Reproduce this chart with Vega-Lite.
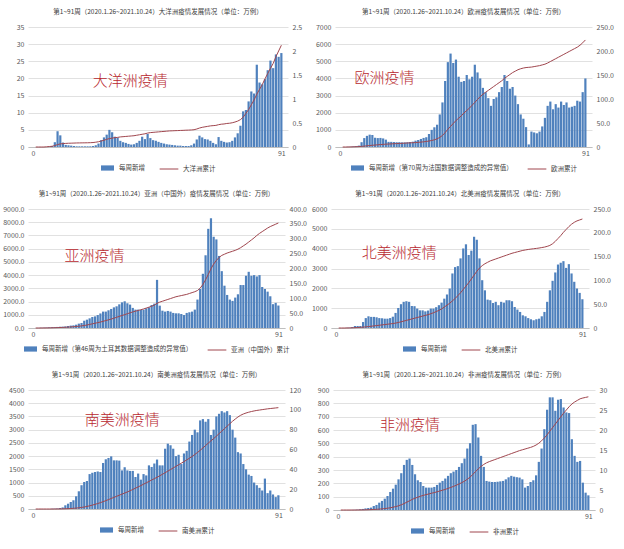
{
"$schema": "https://vega.github.io/schema/vega-lite/v6.json",
"background": "white",
"padding": {"left": 2, "top": 8, "right": 2, "bottom": 2},
"data": {"values": [
{"week":1,"oce_new":0,"oce_cum":0,"eur_new":0,"eur_cum":0,"asi_new":5,"asi_cum":0,"nam_new":0,"nam_cum":0,"sam_new":0,"sam_cum":0,"afr_new":0,"afr_cum":0},
{"week":2,"oce_new":0,"oce_cum":0,"eur_new":0,"eur_cum":0,"asi_new":10,"asi_cum":0,"nam_new":0,"nam_cum":0,"sam_new":0,"sam_cum":0,"afr_new":0,"afr_cum":0},
{"week":3,"oce_new":0,"oce_cum":0,"eur_new":10,"eur_cum":0.1,"asi_new":20,"asi_cum":0.1,"nam_new":0,"nam_cum":0,"sam_new":0,"sam_cum":0,"afr_new":0,"afr_cum":0},
{"week":4,"oce_new":0,"oce_cum":0,"eur_new":20,"eur_cum":0.2,"asi_new":30,"asi_cum":0.2,"nam_new":10,"nam_cum":0.1,"sam_new":0,"sam_cum":0,"afr_new":0,"afr_cum":0},
{"week":5,"oce_new":0,"oce_cum":0.005,"eur_new":40,"eur_cum":0.4,"asi_new":40,"asi_cum":0.3,"nam_new":20,"nam_cum":0.2,"sam_new":0,"sam_cum":0,"afr_new":1,"afr_cum":0},
{"week":6,"oce_new":0.1,"oce_cum":0.01,"eur_new":50,"eur_cum":0.6,"asi_new":50,"asi_cum":0.5,"nam_new":50,"nam_cum":0.4,"sam_new":0,"sam_cum":0,"afr_new":2,"afr_cum":0},
{"week":7,"oce_new":0.3,"oce_cum":0.015,"eur_new":80,"eur_cum":0.9,"asi_new":60,"asi_cum":0.7,"nam_new":100,"nam_cum":0.7,"sam_new":10,"sam_cum":0,"afr_new":3,"afr_cum":0.01},
{"week":8,"oce_new":1.4,"oce_cum":0.03,"eur_new":280,"eur_cum":1.3,"asi_new":70,"asi_cum":1.0,"nam_new":100,"nam_cum":1.0,"sam_new":15,"sam_cum":0.02,"afr_new":5,"afr_cum":0.02},
{"week":9,"oce_new":4.6,"oce_cum":0.05,"eur_new":520,"eur_cum":1.8,"asi_new":80,"asi_cum":1.3,"nam_new":100,"nam_cum":1.4,"sam_new":20,"sam_cum":0.05,"afr_new":8,"afr_cum":0.03},
{"week":10,"oce_new":3.4,"oce_cum":0.065,"eur_new":650,"eur_cum":2.4,"asi_new":90,"asi_cum":1.6,"nam_new":300,"nam_cum":1.8,"sam_new":40,"sam_cum":0.1,"afr_new":12,"afr_cum":0.05},
{"week":11,"oce_new":1.3,"oce_cum":0.07,"eur_new":720,"eur_cum":3.0,"asi_new":100,"asi_cum":2,"nam_new":500,"nam_cum":2.3,"sam_new":60,"sam_cum":0.15,"afr_new":15,"afr_cum":0.07},
{"week":12,"oce_new":0.6,"oce_cum":0.075,"eur_new":700,"eur_cum":3.6,"asi_new":120,"asi_cum":2.5,"nam_new":590,"nam_cum":3.0,"sam_new":140,"sam_cum":0.25,"afr_new":18,"afr_cum":0.1},
{"week":13,"oce_new":0.5,"oce_cum":0.078,"eur_new":540,"eur_cum":4.1,"asi_new":150,"asi_cum":3,"nam_new":560,"nam_cum":3.7,"sam_new":200,"sam_cum":0.35,"afr_new":30,"afr_cum":0.13},
{"week":14,"oce_new":0.4,"oce_cum":0.08,"eur_new":520,"eur_cum":4.6,"asi_new":180,"asi_cum":3.6,"nam_new":560,"nam_cum":4.4,"sam_new":265,"sam_cum":0.5,"afr_new":38,"afr_cum":0.17},
{"week":15,"oce_new":0.3,"oce_cum":0.082,"eur_new":530,"eur_cum":5.1,"asi_new":200,"asi_cum":4.3,"nam_new":540,"nam_cum":5.1,"sam_new":330,"sam_cum":0.7,"afr_new":55,"afr_cum":0.22},
{"week":16,"oce_new":0.2,"oce_cum":0.084,"eur_new":500,"eur_cum":5.5,"asi_new":250,"asi_cum":5,"nam_new":500,"nam_cum":5.8,"sam_new":480,"sam_cum":0.9,"afr_new":68,"afr_cum":0.28},
{"week":17,"oce_new":0.2,"oce_cum":0.085,"eur_new":430,"eur_cum":5.9,"asi_new":330,"asi_cum":6,"nam_new":490,"nam_cum":6.5,"sam_new":670,"sam_cum":1.2,"afr_new":85,"afr_cum":0.35},
{"week":18,"oce_new":0.2,"oce_cum":0.086,"eur_new":300,"eur_cum":6.2,"asi_new":380,"asi_cum":7,"nam_new":470,"nam_cum":7.2,"sam_new":900,"sam_cum":1.6,"afr_new":105,"afr_cum":0.45},
{"week":19,"oce_new":0.2,"oce_cum":0.087,"eur_new":300,"eur_cum":6.5,"asi_new":550,"asi_cum":8.5,"nam_new":470,"nam_cum":7.9,"sam_new":1020,"sam_cum":2.0,"afr_new":135,"afr_cum":0.55},
{"week":20,"oce_new":0.2,"oce_cum":0.088,"eur_new":290,"eur_cum":6.8,"asi_new":630,"asi_cum":10,"nam_new":500,"nam_cum":8.6,"sam_new":1060,"sam_cum":2.6,"afr_new":160,"afr_cum":0.7},
{"week":21,"oce_new":0.2,"oce_cum":0.09,"eur_new":280,"eur_cum":7.1,"asi_new":730,"asi_cum":12,"nam_new":570,"nam_cum":9.4,"sam_new":1320,"sam_cum":3.2,"afr_new":190,"afr_cum":0.85},
{"week":22,"oce_new":0.3,"oce_cum":0.093,"eur_new":280,"eur_cum":7.4,"asi_new":830,"asi_cum":14,"nam_new":760,"nam_cum":10.3,"sam_new":1370,"sam_cum":3.9,"afr_new":230,"afr_cum":1.05},
{"week":23,"oce_new":0.5,"oce_cum":0.1,"eur_new":270,"eur_cum":7.7,"asi_new":880,"asi_cum":16,"nam_new":1010,"nam_cum":11.5,"sam_new":1400,"sam_cum":4.7,"afr_new":276,"afr_cum":1.3},
{"week":24,"oce_new":1.0,"oce_cum":0.11,"eur_new":270,"eur_cum":8.0,"asi_new":980,"asi_cum":18,"nam_new":1200,"nam_cum":13,"sam_new":1420,"sam_cum":5.5,"afr_new":338,"afr_cum":1.6},
{"week":25,"oce_new":2.0,"oce_cum":0.125,"eur_new":280,"eur_cum":8.3,"asi_new":1100,"asi_cum":20,"nam_new":1320,"nam_cum":14.5,"sam_new":1400,"sam_cum":6.4,"afr_new":376,"afr_cum":1.95},
{"week":26,"oce_new":2.8,"oce_cum":0.14,"eur_new":290,"eur_cum":8.6,"asi_new":1240,"asi_cum":22.5,"nam_new":1350,"nam_cum":16,"sam_new":1740,"sam_cum":7.4,"afr_new":386,"afr_cum":2.3},
{"week":27,"oce_new":3.6,"oce_cum":0.16,"eur_new":310,"eur_cum":8.9,"asi_new":1240,"asi_cum":25,"nam_new":1320,"nam_cum":17.5,"sam_new":1880,"sam_cum":8.4,"afr_new":338,"afr_cum":2.65},
{"week":28,"oce_new":5.0,"oce_cum":0.175,"eur_new":370,"eur_cum":9.3,"asi_new":1340,"asi_cum":27.5,"nam_new":1110,"nam_cum":19,"sam_new":1930,"sam_cum":9.5,"afr_new":268,"afr_cum":2.95},
{"week":29,"oce_new":4.3,"oce_cum":0.185,"eur_new":410,"eur_cum":9.7,"asi_new":1440,"asi_cum":30,"nam_new":1100,"nam_cum":20.5,"sam_new":1990,"sam_cum":10.6,"afr_new":223,"afr_cum":3.2},
{"week":30,"oce_new":3.0,"oce_cum":0.195,"eur_new":470,"eur_cum":10.2,"asi_new":1560,"asi_cum":33,"nam_new":980,"nam_cum":22,"sam_new":1840,"sam_cum":11.7,"afr_new":210,"afr_cum":3.45},
{"week":31,"oce_new":2.7,"oce_cum":0.2,"eur_new":530,"eur_cum":10.8,"asi_new":1640,"asi_cum":36,"nam_new":890,"nam_cum":23.5,"sam_new":1840,"sam_cum":12.8,"afr_new":180,"afr_cum":3.65},
{"week":32,"oce_new":1.8,"oce_cum":0.21,"eur_new":570,"eur_cum":11.5,"asi_new":1790,"asi_cum":39,"nam_new":890,"nam_cum":25,"sam_new":1830,"sam_cum":13.9,"afr_new":168,"afr_cum":3.85},
{"week":33,"oce_new":1.4,"oce_cum":0.215,"eur_new":760,"eur_cum":12.4,"asi_new":1940,"asi_cum":42,"nam_new":840,"nam_cum":26.5,"sam_new":1460,"sam_cum":15.0,"afr_new":168,"afr_cum":4.0},
{"week":34,"oce_new":1.2,"oce_cum":0.22,"eur_new":1000,"eur_cum":13.6,"asi_new":2020,"asi_cum":45,"nam_new":880,"nam_cum":28,"sam_new":1580,"sam_cum":16.1,"afr_new":168,"afr_cum":4.2},
{"week":35,"oce_new":0.9,"oce_cum":0.225,"eur_new":1150,"eur_cum":15.0,"asi_new":1870,"asi_cum":48,"nam_new":980,"nam_cum":30,"sam_new":1460,"sam_cum":17.2,"afr_new":173,"afr_cum":4.35},
{"week":36,"oce_new":0.7,"oce_cum":0.23,"eur_new":1300,"eur_cum":17.0,"asi_new":1770,"asi_cum":51,"nam_new":980,"nam_cum":32,"sam_new":1440,"sam_cum":18.4,"afr_new":188,"afr_cum":4.55},
{"week":37,"oce_new":0.8,"oce_cum":0.235,"eur_new":1900,"eur_cum":20,"asi_new":1520,"asi_cum":54,"nam_new":1050,"nam_cum":34.5,"sam_new":1440,"sam_cum":19.7,"afr_new":205,"afr_cum":4.75},
{"week":38,"oce_new":1.2,"oce_cum":0.245,"eur_new":2600,"eur_cum":24,"asi_new":1390,"asi_cum":56.5,"nam_new":1150,"nam_cum":37,"sam_new":1210,"sam_cum":21,"afr_new":218,"afr_cum":4.95},
{"week":39,"oce_new":1.8,"oce_cum":0.255,"eur_new":3850,"eur_cum":30,"asi_new":1390,"asi_cum":59,"nam_new":1280,"nam_cum":40,"sam_new":1340,"sam_cum":22.3,"afr_new":236,"afr_cum":5.15},
{"week":40,"oce_new":3.0,"oce_cum":0.265,"eur_new":4950,"eur_cum":37,"asi_new":1360,"asi_cum":61.5,"nam_new":1480,"nam_cum":44,"sam_new":1110,"sam_cum":23.6,"afr_new":256,"afr_cum":5.4},
{"week":41,"oce_new":2.3,"oce_cum":0.275,"eur_new":5450,"eur_cum":43,"asi_new":1390,"asi_cum":64,"nam_new":1690,"nam_cum":48,"sam_new":1320,"sam_cum":25,"afr_new":276,"afr_cum":5.65},
{"week":42,"oce_new":3.8,"oce_cum":0.29,"eur_new":4900,"eur_cum":49,"asi_new":1490,"asi_cum":67,"nam_new":1990,"nam_cum":52,"sam_new":1270,"sam_cum":26.4,"afr_new":288,"afr_cum":5.9},
{"week":43,"oce_new":2.6,"oce_cum":0.3,"eur_new":5100,"eur_cum":55,"asi_new":1560,"asi_cum":70,"nam_new":2750,"nam_cum":57,"sam_new":1650,"sam_cum":27.8,"afr_new":300,"afr_cum":6.2},
{"week":44,"oce_new":2.0,"oce_cum":0.305,"eur_new":4100,"eur_cum":60,"asi_new":1740,"asi_cum":73,"nam_new":3070,"nam_cum":62,"sam_new":1590,"sam_cum":29.2,"afr_new":323,"afr_cum":6.5},
{"week":45,"oce_new":1.8,"oce_cum":0.31,"eur_new":3800,"eur_cum":65,"asi_new":1840,"asi_cum":77,"nam_new":3120,"nam_cum":68,"sam_new":1720,"sam_cum":30.6,"afr_new":351,"afr_cum":6.85},
{"week":46,"oce_new":1.5,"oce_cum":0.315,"eur_new":3850,"eur_cum":71,"asi_new":3640,"asi_cum":83,"nam_new":3510,"nam_cum":74,"sam_new":1870,"sam_cum":32,"afr_new":386,"afr_cum":7.2},
{"week":47,"oce_new":1.2,"oce_cum":0.32,"eur_new":4200,"eur_cum":76,"asi_new":1690,"asi_cum":87,"nam_new":4010,"nam_cum":81,"sam_new":1650,"sam_cum":33.5,"afr_new":461,"afr_cum":7.7},
{"week":48,"oce_new":1.0,"oce_cum":0.325,"eur_new":3950,"eur_cum":81,"asi_new":1310,"asi_cum":90,"nam_new":4220,"nam_cum":88,"sam_new":1650,"sam_cum":35,"afr_new":501,"afr_cum":8.2},
{"week":49,"oce_new":0.8,"oce_cum":0.33,"eur_new":4100,"eur_cum":87,"asi_new":1240,"asi_cum":93,"nam_new":3680,"nam_cum":95,"sam_new":2280,"sam_cum":36.6,"afr_new":639,"afr_cum":8.9},
{"week":50,"oce_new":0.7,"oce_cum":0.335,"eur_new":4800,"eur_cum":93,"asi_new":1290,"asi_cum":96,"nam_new":3900,"nam_cum":103,"sam_new":2470,"sam_cum":38.2,"afr_new":644,"afr_cum":9.6},
{"week":51,"oce_new":0.6,"oce_cum":0.337,"eur_new":4350,"eur_cum":99,"asi_new":1240,"asi_cum":99,"nam_new":4600,"nam_cum":111,"sam_new":2410,"sam_cum":39.8,"afr_new":544,"afr_cum":10.3},
{"week":52,"oce_new":0.5,"oce_cum":0.34,"eur_new":4000,"eur_cum":105,"asi_new":1140,"asi_cum":102,"nam_new":4450,"nam_cum":119,"sam_new":2280,"sam_cum":41.4,"afr_new":406,"afr_cum":10.9},
{"week":53,"oce_new":0.4,"oce_cum":0.342,"eur_new":3450,"eur_cum":110,"asi_new":1110,"asi_cum":105,"nam_new":3510,"nam_cum":126,"sam_new":2000,"sam_cum":43,"afr_new":323,"afr_cum":11.4},
{"week":54,"oce_new":0.4,"oce_cum":0.345,"eur_new":3200,"eur_cum":114,"asi_new":1110,"asi_cum":107,"nam_new":2410,"nam_cum":131,"sam_new":2050,"sam_cum":44.6,"afr_new":218,"afr_cum":11.8},
{"week":55,"oce_new":0.3,"oce_cum":0.347,"eur_new":2850,"eur_cum":118,"asi_new":1060,"asi_cum":109,"nam_new":1900,"nam_cum":135,"sam_new":1700,"sam_cum":46.2,"afr_new":213,"afr_cum":12.1},
{"week":56,"oce_new":0.3,"oce_cum":0.35,"eur_new":2400,"eur_cum":122,"asi_new":980,"asi_cum":111,"nam_new":1430,"nam_cum":138,"sam_new":2100,"sam_cum":47.8,"afr_new":210,"afr_cum":12.35},
{"week":57,"oce_new":0.3,"oce_cum":0.352,"eur_new":2800,"eur_cum":126,"asi_new":1140,"asi_cum":113,"nam_new":1400,"nam_cum":141,"sam_new":2200,"sam_cum":49.5,"afr_new":210,"afr_cum":12.6},
{"week":58,"oce_new":0.5,"oce_cum":0.355,"eur_new":2900,"eur_cum":130,"asi_new":1190,"asi_cum":116,"nam_new":1260,"nam_cum":143,"sam_new":2550,"sam_cum":51.2,"afr_new":212,"afr_cum":12.85},
{"week":59,"oce_new":1.0,"oce_cum":0.36,"eur_new":3200,"eur_cum":134,"asi_new":1240,"asi_cum":119,"nam_new":1320,"nam_cum":145,"sam_new":2800,"sam_cum":53,"afr_new":215,"afr_cum":13.1},
{"week":60,"oce_new":2.2,"oce_cum":0.375,"eur_new":3500,"eur_cum":138,"asi_new":1390,"asi_cum":122,"nam_new":1150,"nam_cum":147,"sam_new":3000,"sam_cum":55,"afr_new":218,"afr_cum":13.35},
{"week":61,"oce_new":3.3,"oce_cum":0.395,"eur_new":4200,"eur_cum":143,"asi_new":2150,"asi_cum":126,"nam_new":1320,"nam_cum":149,"sam_new":2900,"sam_cum":57,"afr_new":230,"afr_cum":13.6},
{"week":62,"oce_new":2.8,"oce_cum":0.41,"eur_new":3850,"eur_cum":147,"asi_new":2950,"asi_cum":134,"nam_new":1280,"nam_cum":151,"sam_new":3350,"sam_cum":59.2,"afr_new":245,"afr_cum":13.85},
{"week":63,"oce_new":2.3,"oce_cum":0.42,"eur_new":3400,"eur_cum":151,"asi_new":4100,"asi_cum":146,"nam_new":1400,"nam_cum":153,"sam_new":3400,"sam_cum":61.5,"afr_new":256,"afr_cum":14.1},
{"week":64,"oce_new":2.2,"oce_cum":0.43,"eur_new":3500,"eur_cum":155,"asi_new":5500,"asi_cum":162,"nam_new":1400,"nam_cum":155,"sam_new":3300,"sam_cum":64,"afr_new":250,"afr_cum":14.35},
{"week":65,"oce_new":1.8,"oce_cum":0.44,"eur_new":3000,"eur_cum":158,"asi_new":7500,"asi_cum":180,"nam_new":1350,"nam_cum":157,"sam_new":3400,"sam_cum":66.4,"afr_new":246,"afr_cum":14.6},
{"week":66,"oce_new":1.2,"oce_cum":0.445,"eur_new":2500,"eur_cum":161,"asi_new":8300,"asi_cum":199,"nam_new":1060,"nam_cum":158.5,"sam_new":2800,"sam_cum":68.8,"afr_new":243,"afr_cum":14.85},
{"week":67,"oce_new":0.8,"oce_cum":0.45,"eur_new":1900,"eur_cum":163,"asi_new":6900,"asi_cum":215,"nam_new":930,"nam_cum":160,"sam_new":3000,"sam_cum":71,"afr_new":230,"afr_cum":15.05},
{"week":68,"oce_new":2.9,"oce_cum":0.465,"eur_new":1650,"eur_cum":164.5,"asi_new":6700,"asi_cum":227,"nam_new":810,"nam_cum":161.5,"sam_new":3500,"sam_cum":73.4,"afr_new":168,"afr_cum":15.25},
{"week":69,"oce_new":1.8,"oce_cum":0.475,"eur_new":1160,"eur_cum":165.5,"asi_new":5450,"asi_cum":237,"nam_new":640,"nam_cum":163,"sam_new":3600,"sam_cum":76,"afr_new":180,"afr_cum":15.45},
{"week":70,"oce_new":1.5,"oce_cum":0.48,"eur_new":150,"eur_cum":166,"asi_new":4300,"asi_cum":244,"nam_new":590,"nam_cum":164,"sam_new":3700,"sam_cum":78.5,"afr_new":210,"afr_cum":15.65},
{"week":71,"oce_new":1.3,"oce_cum":0.49,"eur_new":900,"eur_cum":166.5,"asi_new":3200,"asi_cum":248,"nam_new":500,"nam_cum":165,"sam_new":3650,"sam_cum":81,"afr_new":223,"afr_cum":15.9},
{"week":72,"oce_new":1.4,"oce_cum":0.495,"eur_new":850,"eur_cum":167.5,"asi_new":2500,"asi_cum":252,"nam_new":440,"nam_cum":165.8,"sam_new":3700,"sam_cum":83.5,"afr_new":260,"afr_cum":16.25},
{"week":73,"oce_new":1.8,"oce_cum":0.505,"eur_new":800,"eur_cum":168.5,"asi_new":2150,"asi_cum":255,"nam_new":390,"nam_cum":166.5,"sam_new":3550,"sam_cum":86,"afr_new":361,"afr_cum":16.7},
{"week":74,"oce_new":2.8,"oce_cum":0.52,"eur_new":900,"eur_cum":169.5,"asi_new":2050,"asi_cum":258,"nam_new":440,"nam_cum":167.2,"sam_new":3000,"sam_cum":88.5,"afr_new":461,"afr_cum":17.3},
{"week":75,"oce_new":4.0,"oce_cum":0.54,"eur_new":1200,"eur_cum":171,"asi_new":2300,"asi_cum":261,"nam_new":470,"nam_cum":168,"sam_new":2700,"sam_cum":90.7,"afr_new":606,"afr_cum":18.0},
{"week":76,"oce_new":6.2,"oce_cum":0.57,"eur_new":1700,"eur_cum":172.5,"asi_new":2550,"asi_cum":265,"nam_new":590,"nam_cum":169,"sam_new":2150,"sam_cum":92.8,"afr_new":752,"afr_cum":18.8},
{"week":77,"oce_new":10.4,"oce_cum":0.62,"eur_new":2400,"eur_cum":175,"asi_new":3250,"asi_cum":270,"nam_new":810,"nam_cum":170,"sam_new":2100,"sam_cum":94.5,"afr_new":845,"afr_cum":19.7},
{"week":78,"oce_new":10.8,"oce_cum":0.7,"eur_new":2650,"eur_cum":178,"asi_new":3250,"asi_cum":276,"nam_new":1320,"nam_cum":171.5,"sam_new":1700,"sam_cum":95.8,"afr_new":845,"afr_cum":20.6},
{"week":79,"oce_new":13.3,"oce_cum":0.78,"eur_new":2200,"eur_cum":181,"asi_new":3950,"asi_cum":282,"nam_new":1900,"nam_cum":173.5,"sam_new":1500,"sam_cum":96.8,"afr_new":744,"afr_cum":21.5},
{"week":80,"oce_new":16.2,"oce_cum":0.88,"eur_new":2500,"eur_cum":184,"asi_new":4250,"asi_cum":289,"nam_new":2380,"nam_cum":177,"sam_new":1300,"sam_cum":97.6,"afr_new":827,"afr_cum":22.4},
{"week":81,"oce_new":15.6,"oce_cum":0.98,"eur_new":2300,"eur_cum":187,"asi_new":3950,"asi_cum":296,"nam_new":2800,"nam_cum":182,"sam_new":1250,"sam_cum":98.3,"afr_new":832,"afr_cum":23.3},
{"week":82,"oce_new":24.0,"oce_cum":1.1,"eur_new":2650,"eur_cum":190,"asi_new":4000,"asi_cum":303,"nam_new":3200,"nam_cum":188,"sam_new":1000,"sam_cum":98.9,"afr_new":769,"afr_cum":24.2},
{"week":83,"oce_new":18.8,"oce_cum":1.2,"eur_new":2450,"eur_cum":193,"asi_new":3900,"asi_cum":311,"nam_new":3290,"nam_cum":194,"sam_new":900,"sam_cum":99.4,"afr_new":732,"afr_cum":25.0},
{"week":84,"oce_new":18.3,"oce_cum":1.3,"eur_new":2600,"eur_cum":196,"asi_new":4000,"asi_cum":318,"nam_new":3370,"nam_cum":201,"sam_new":800,"sam_cum":99.8,"afr_new":727,"afr_cum":25.8},
{"week":85,"oce_new":19.8,"oce_cum":1.42,"eur_new":2300,"eur_cum":199,"asi_new":3100,"asi_cum":324,"nam_new":3030,"nam_cum":207,"sam_new":700,"sam_cum":100.2,"afr_new":531,"afr_cum":26.5},
{"week":86,"oce_new":22.4,"oce_cum":1.53,"eur_new":2350,"eur_cum":202,"asi_new":2950,"asi_cum":330,"nam_new":3220,"nam_cum":213,"sam_new":1150,"sam_cum":100.6,"afr_new":406,"afr_cum":27.0},
{"week":87,"oce_new":25.2,"oce_cum":1.64,"eur_new":2400,"eur_cum":205,"asi_new":2750,"asi_cum":336,"nam_new":2750,"nam_cum":218,"sam_new":600,"sam_cum":101,"afr_new":361,"afr_cum":27.4},
{"week":88,"oce_new":23.0,"oce_cum":1.74,"eur_new":2700,"eur_cum":208,"asi_new":2400,"asi_cum":341,"nam_new":2330,"nam_cum":222,"sam_new":700,"sam_cum":101.3,"afr_new":368,"afr_cum":27.8},
{"week":89,"oce_new":27.0,"oce_cum":1.88,"eur_new":2650,"eur_cum":212,"asi_new":1800,"asi_cum":345,"nam_new":1990,"nam_cum":225,"sam_new":550,"sam_cum":101.6,"afr_new":205,"afr_cum":28.0},
{"week":90,"oce_new":26.3,"oce_cum":2.0,"eur_new":3200,"eur_cum":217,"asi_new":1900,"asi_cum":349,"nam_new":1770,"nam_cum":227,"sam_new":450,"sam_cum":101.9,"afr_new":130,"afr_cum":28.15},
{"week":91,"oce_new":27.4,"oce_cum":2.12,"eur_new":4000,"eur_cum":223,"asi_new":1700,"asi_cum":353,"nam_new":1450,"nam_cum":229,"sam_new":520,"sam_cum":102.2,"afr_new":110,"afr_cum":28.3}
]},
"columns": 1,
"align": "none",
"spacing": 17,
"resolve": {"scale": {"fill": "independent", "stroke": "independent"}},
"concat": [
{"hconcat": [
{"width": 260, "height": 120,
 "title": {"text": "第1~91周（2020.1.26~2021.10.24）大洋洲疫情发展情况（单位：万例）"},
 "layer": [
  {"mark": {"type": "bar", "size": 2.2},
   "encoding": {
    "x": {"field": "week", "type": "quantitative", "scale": {"domain": [0, 91.6], "nice": false}, "axis": {"values": [0, 91], "title": null}},
    "y": {"field": "oce_new", "type": "quantitative", "scale": {"domain": [0, 35], "nice": false}, "axis": {"values": [0,5,10,15,20,25,30,35], "title": null, "grid": true}},
    "fill": {"datum": "每周新增", "scale": {"range": ["#4F81BD"]}, "legend": {"title": null, "symbolType": "M-1,-0.4H1V0.4H-1Z", "symbolSize": 170}}}},
  {"mark": {"type": "line", "strokeWidth": 1},
   "encoding": {
    "x": {"field": "week", "type": "quantitative"},
    "y": {"field": "oce_cum", "type": "quantitative", "scale": {"domain": [0, 2.5], "nice": false}, "axis": {"orient": "right", "values": [0,0.5,1,1.5,2,2.5], "format": "~g", "title": null, "grid": false}},
    "stroke": {"datum": "大洋洲累计", "scale": {"range": ["#A0464E"]}, "legend": {"title": null, "symbolType": "stroke", "symbolSize": 350}}}},
  {"data": {"values": [{"label": "大洋洲疫情"}]},
   "mark": {"type": "text", "fontSize": 15, "fontWeight": 300, "color": "#B8282E"},
   "encoding": {"x": {"datum": 35.6}, "y": {"datum": 0.551, "scale": {"domain": [0, 1]}, "axis": null}, "text": {"field": "label"}}}
 ],
 "resolve": {"scale": {"y": "independent"}}},
{"width": 257, "height": 120,
 "title": {"text": "第1~91周（2020.1.26~2021.10.24）欧洲疫情发展情况（单位：万例）"},
 "layer": [
  {"mark": {"type": "bar", "size": 2.2},
   "encoding": {
    "x": {"field": "week", "type": "quantitative", "scale": {"domain": [0, 91.6], "nice": false}, "axis": {"values": [0, 91], "title": null}},
    "y": {"field": "eur_new", "type": "quantitative", "scale": {"domain": [0, 7000], "nice": false}, "axis": {"values": [0,1000,2000,3000,4000,5000,6000,7000], "format": "d", "title": null, "grid": true}},
    "fill": {"datum": "每周新增（第70周为法国数据调整造成的异常值）", "scale": {"range": ["#4F81BD"]}, "legend": {"title": null, "symbolType": "M-1,-0.4H1V0.4H-1Z", "symbolSize": 170}}}},
  {"mark": {"type": "line", "strokeWidth": 1},
   "encoding": {
    "x": {"field": "week", "type": "quantitative"},
    "y": {"field": "eur_cum", "type": "quantitative", "scale": {"domain": [0, 250], "nice": false}, "axis": {"orient": "right", "values": [0,50,100,150,200,250], "labelExpr": "datum.value == 0 ? '0' : format(datum.value, '.1f')", "title": null, "grid": false}},
    "stroke": {"datum": "欧洲累计", "scale": {"range": ["#A0464E"]}, "legend": {"title": null, "symbolType": "stroke", "symbolSize": 350}}}},
  {"data": {"values": [{"label": "欧洲疫情"}]},
   "mark": {"type": "text", "fontSize": 15, "fontWeight": 300, "color": "#B8282E"},
   "encoding": {"x": {"datum": 16.5}, "y": {"datum": 0.575, "scale": {"domain": [0, 1]}, "axis": null}, "text": {"field": "label"}}}
 ],
 "resolve": {"scale": {"y": "independent"}}}
], "spacing": 13, "resolve": {"scale": {"fill": "independent", "stroke": "independent"}}},
{"hconcat": [
{"width": 257, "height": 119,
 "title": {"text": "第1~91周（2020.1.26~2021.10.24）亚洲（中国外）疫情发展情况（单位：万例）"},
 "layer": [
  {"mark": {"type": "bar", "size": 2.2},
   "encoding": {
    "x": {"field": "week", "type": "quantitative", "scale": {"domain": [0, 91.6], "nice": false}, "axis": {"values": [0, 91], "title": null}},
    "y": {"field": "asi_new", "type": "quantitative", "scale": {"domain": [0, 9000], "nice": false}, "axis": {"values": [0,1000,2000,3000,4000,5000,6000,7000,8000,9000], "format": ".1f", "title": null, "grid": true}},
    "fill": {"datum": "每周新增（第46周为土耳其数据调整造成的异常值）", "scale": {"range": ["#4F81BD"]}, "legend": {"title": null, "symbolType": "M-1,-0.4H1V0.4H-1Z", "symbolSize": 170}}}},
  {"mark": {"type": "line", "strokeWidth": 1},
   "encoding": {
    "x": {"field": "week", "type": "quantitative"},
    "y": {"field": "asi_cum", "type": "quantitative", "scale": {"domain": [0, 400], "nice": false}, "axis": {"orient": "right", "values": [0,50,100,150,200,250,300,350,400], "labelExpr": "datum.value == 0 ? '0' : format(datum.value, '.1f')", "title": null, "grid": false}},
    "stroke": {"datum": "亚洲（中国外）累计", "scale": {"range": ["#A0464E"]}, "legend": {"title": null, "symbolType": "stroke", "symbolSize": 350}}}},
  {"data": {"values": [{"label": "亚洲疫情"}]},
   "mark": {"type": "text", "fontSize": 15, "fontWeight": 300, "color": "#B8282E"},
   "encoding": {"x": {"datum": 22.8}, "y": {"datum": 0.605, "scale": {"domain": [0, 1]}, "axis": null}, "text": {"field": "label"}}}
 ],
 "resolve": {"scale": {"y": "independent"}}},
{"width": 258, "height": 119,
 "title": {"text": "第1~91周（2020.1.26~2021.10.24）北美洲疫情发展情况（单位：万例）"},
 "layer": [
  {"mark": {"type": "bar", "size": 2.2},
   "encoding": {
    "x": {"field": "week", "type": "quantitative", "scale": {"domain": [0, 91.6], "nice": false}, "axis": {"values": [0, 91], "title": null}},
    "y": {"field": "nam_new", "type": "quantitative", "scale": {"domain": [0, 6000], "nice": false}, "axis": {"values": [0,1000,2000,3000,4000,5000,6000], "format": "d", "title": null, "grid": true}},
    "fill": {"datum": "每周新增", "scale": {"range": ["#4F81BD"]}, "legend": {"title": null, "symbolType": "M-1,-0.4H1V0.4H-1Z", "symbolSize": 170}}}},
  {"mark": {"type": "line", "strokeWidth": 1},
   "encoding": {
    "x": {"field": "week", "type": "quantitative"},
    "y": {"field": "nam_cum", "type": "quantitative", "scale": {"domain": [0, 250], "nice": false}, "axis": {"orient": "right", "values": [0,50,100,150,200,250], "labelExpr": "datum.value == 0 ? '0' : format(datum.value, '.1f')", "title": null, "grid": false}},
    "stroke": {"datum": "北美洲累计", "scale": {"range": ["#A0464E"]}, "legend": {"title": null, "symbolType": "stroke", "symbolSize": 350}}}},
  {"data": {"values": [{"label": "北美洲疫情"}]},
   "mark": {"type": "text", "fontSize": 15, "fontWeight": 300, "color": "#B8282E"},
   "encoding": {"x": {"datum": 23.4}, "y": {"datum": 0.633, "scale": {"domain": [0, 1]}, "axis": null}, "text": {"field": "label"}}}
 ],
 "resolve": {"scale": {"y": "independent"}}}
], "spacing": 4, "resolve": {"scale": {"fill": "independent", "stroke": "independent"}}},
{"hconcat": [
{"width": 257, "height": 119,
 "title": {"text": "第1~91周（2020.1.26~2021.10.24）南美洲疫情发展情况（单位：万例）"},
 "layer": [
  {"mark": {"type": "bar", "size": 2.2},
   "encoding": {
    "x": {"field": "week", "type": "quantitative", "scale": {"domain": [0, 91.6], "nice": false}, "axis": {"values": [0, 91], "title": null}},
    "y": {"field": "sam_new", "type": "quantitative", "scale": {"domain": [0, 4500], "nice": false}, "axis": {"values": [0,500,1000,1500,2000,2500,3000,3500,4000,4500], "format": "d", "title": null, "grid": true}},
    "fill": {"datum": "每周新增", "scale": {"range": ["#4F81BD"]}, "legend": {"title": null, "symbolType": "M-1,-0.4H1V0.4H-1Z", "symbolSize": 170}}}},
  {"mark": {"type": "line", "strokeWidth": 1},
   "encoding": {
    "x": {"field": "week", "type": "quantitative"},
    "y": {"field": "sam_cum", "type": "quantitative", "scale": {"domain": [0, 120], "nice": false}, "axis": {"orient": "right", "values": [0,20,40,60,80,100,120], "title": null, "grid": false}},
    "stroke": {"datum": "南美洲累计", "scale": {"range": ["#A0464E"]}, "legend": {"title": null, "symbolType": "stroke", "symbolSize": 350}}}},
  {"data": {"values": [{"label": "南美洲疫情"}]},
   "mark": {"type": "text", "fontSize": 15, "fontWeight": 300, "color": "#B8282E"},
   "encoding": {"x": {"datum": 33.1}, "y": {"datum": 0.748, "scale": {"domain": [0, 1]}, "axis": null}, "text": {"field": "label"}}}
 ],
 "resolve": {"scale": {"y": "independent"}}},
{"width": 262, "height": 120,
 "title": {"text": "第1~91周（2020.1.26~2021.10.24）非洲疫情发展情况（单位：万例）"},
 "layer": [
  {"mark": {"type": "bar", "size": 2.2},
   "encoding": {
    "x": {"field": "week", "type": "quantitative", "scale": {"domain": [0, 91.6], "nice": false}, "axis": {"values": [0, 91], "title": null}},
    "y": {"field": "afr_new", "type": "quantitative", "scale": {"domain": [0, 900], "nice": false}, "axis": {"values": [0,100,200,300,400,500,600,700,800,900], "title": null, "grid": true}},
    "fill": {"datum": "每周新增", "scale": {"range": ["#4F81BD"]}, "legend": {"title": null, "symbolType": "M-1,-0.4H1V0.4H-1Z", "symbolSize": 170}}}},
  {"mark": {"type": "line", "strokeWidth": 1},
   "encoding": {
    "x": {"field": "week", "type": "quantitative"},
    "y": {"field": "afr_cum", "type": "quantitative", "scale": {"domain": [0, 30], "nice": false}, "axis": {"orient": "right", "values": [0,5,10,15,20,25,30], "title": null, "grid": false}},
    "stroke": {"datum": "非洲累计", "scale": {"range": ["#A0464E"]}, "legend": {"title": null, "symbolType": "stroke", "symbolSize": 350}}}},
  {"data": {"values": [{"label": "非洲疫情"}]},
   "mark": {"type": "text", "fontSize": 15, "fontWeight": 300, "color": "#B8282E"},
   "encoding": {"x": {"datum": 26.2}, "y": {"datum": 0.708, "scale": {"domain": [0, 1]}, "axis": null}, "text": {"field": "label"}}}
 ],
 "resolve": {"scale": {"y": "independent"}}}
], "spacing": 16, "resolve": {"scale": {"fill": "independent", "stroke": "independent"}}}
],
"config": {
 "font": "Noto Sans CJK SC",
 "view": {"stroke": null},
 "axis": {"labelFontSize": 7, "labelColor": "#595959", "domain": false, "ticks": false, "gridColor": "#D9D9D9", "gridWidth": 0.8, "labelPadding": 4, "labelOverlap": false},
 "axisX": {"domain": true, "domainColor": "#BFBFBF", "grid": false, "labelPadding": 2},
 "title": {"fontSize": 6.5, "fontWeight": "normal", "color": "#404040", "offset": 8},
 "legend": {"orient": "bottom", "labelFontSize": 6.5, "labelColor": "#404040", "labelLimit": 0, "offset": 3, "symbolStrokeWidth": 1, "layout": {"bottom": {"anchor": "middle", "direction": "horizontal", "margin": 14, "center": true}}}
}
}
